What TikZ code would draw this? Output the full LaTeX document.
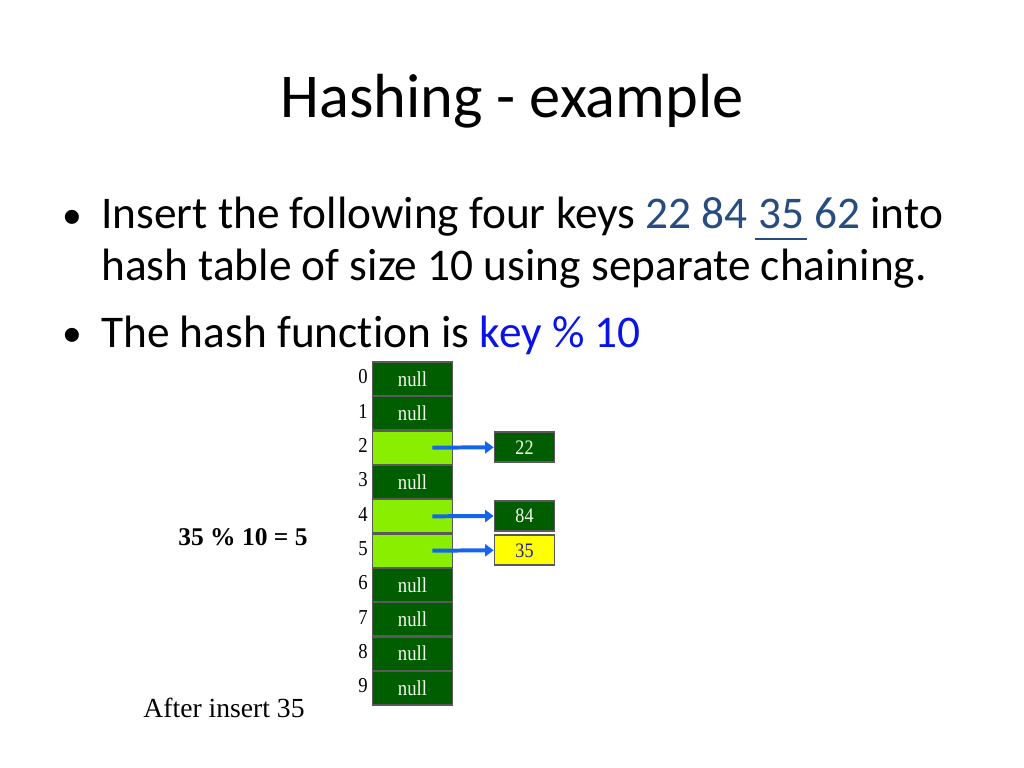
\documentclass[tikz,border=0pt]{standalone}
\usepackage{fontspec}
\setmainfont{Liberation Serif}
\newfontfamily\calibri[Ligatures={NoCommon,NoContextual}]{Carlito}
\usetikzlibrary{arrows.meta}
\definecolor{dkgreen}{RGB}{0,94,0}
\definecolor{ltgreen}{RGB}{138,238,0}
\definecolor{cellborder}{RGB}{90,90,90}
\definecolor{keyblue}{RGB}{38,76,128}
\definecolor{fnblue}{RGB}{10,20,230}
\definecolor{arrblue}{RGB}{20,100,240}
\definecolor{nulltext}{RGB}{248,252,240}
\definecolor{yelbox}{RGB}{255,255,0}
\definecolor{num35}{RGB}{30,30,160}
\newcommand{\cnd}[1]{\scalebox{0.88}[1]{#1}}
\newcommand{\myul}[1]{\setbox0\hbox{#1}\rlap{\kern-0.06em\raisebox{-0.27em}{\rule{\dimexpr\wd0+0.12em\relax}{0.05em}}}#1}
\tikzset{
  cell/.style={draw=cellborder, line width=1.2bp, fill=dkgreen, text=nulltext,
    minimum width=56.2bp, minimum height=23.6bp, inner sep=0pt,
    font=\fontsize{15}{17}\selectfont},
  lcell/.style={cell, fill=ltgreen},
  chain/.style={draw=cellborder, line width=1.2bp, fill=dkgreen, text=nulltext,
    minimum width=42.2bp, minimum height=21.1bp, inner sep=0pt,
    font=\fontsize{14.5}{16}\selectfont},
  ychain/.style={chain, fill=yelbox, text=num35},
  idx/.style={font=\fontsize{15}{17}\selectfont, inner sep=0pt},
  arr/.style={draw=arrblue, line width=2.8bp, -{Triangle[length=6bp,width=8.5bp]}},
  bodytxt/.style={anchor=base west, inner sep=0pt, font=\calibri\fontsize{32}{38}\selectfont},
  bul/.style={anchor=base west, inner sep=0pt, font=\calibri\fontsize{28}{32}\selectfont}
}
\begin{document}
\begin{tikzpicture}[x=0.703125bp,y=-0.703125bp]
\useasboundingbox (0,0) rectangle (1024,768);
\fill[white] (0,0) rectangle (1024,768);
% title
\node[anchor=base, inner sep=0pt, font=\calibri\fontsize{44}{50}\selectfont] (title) at (512,118) {Hashing - example};
% bullets
\node[bul] (b1) at (62,228) {\textbullet};
\node[bodytxt] (l1) at (101,228) {Insert the following four keys \textcolor{keyblue}{22 84 \myul{35} 62} into};
\node[bodytxt] (l2) at (101,280) {hash table of size 10 using separate chaining.};
\node[bul] (b2) at (62,346) {\textbullet};
\node[bodytxt] (l3) at (101,347) {The hash function is \textcolor{fnblue}{key \% 10}};
% table
\foreach \i in {0,1,3,6,7,8,9}{
  \node[cell] (c\i) at (412.5,{379+34.33*\i}) {\cnd{null}};
}
\foreach \i in {2,4,5}{
  \node[lcell] (c\i) at (412.5,{379+34.33*\i}) {};
}
\foreach \i in {0,...,9}{
  \node[idx] (n\i) at (363,{377+34.33*\i}) {\cnd{\i}};
}
% chains
\node[chain] (k22) at (524.5,447.3) {\cnd{22}};
\node[chain] (k84) at (524.5,516) {\cnd{84}};
\node[ychain] (k35) at (524.5,550.3) {\cnd{35}};
\draw[arr] ([xshift=14bp]c2.center) -- (k22.west);
\draw[arr] ([xshift=14bp]c4.center) -- (k84.west);
\draw[arr] ([xshift=14bp]c5.center) -- (k35.west);
% side labels
\node[anchor=base, inner sep=0pt, font=\bfseries\fontsize{18}{20}\selectfont] (calc) at (243,545) {35 \% 10 = 5};
\node[anchor=base, inner sep=0pt, font=\fontsize{19.5}{22}\selectfont] (after) at (224,717) {After insert 35};
\end{tikzpicture}
\end{document}
